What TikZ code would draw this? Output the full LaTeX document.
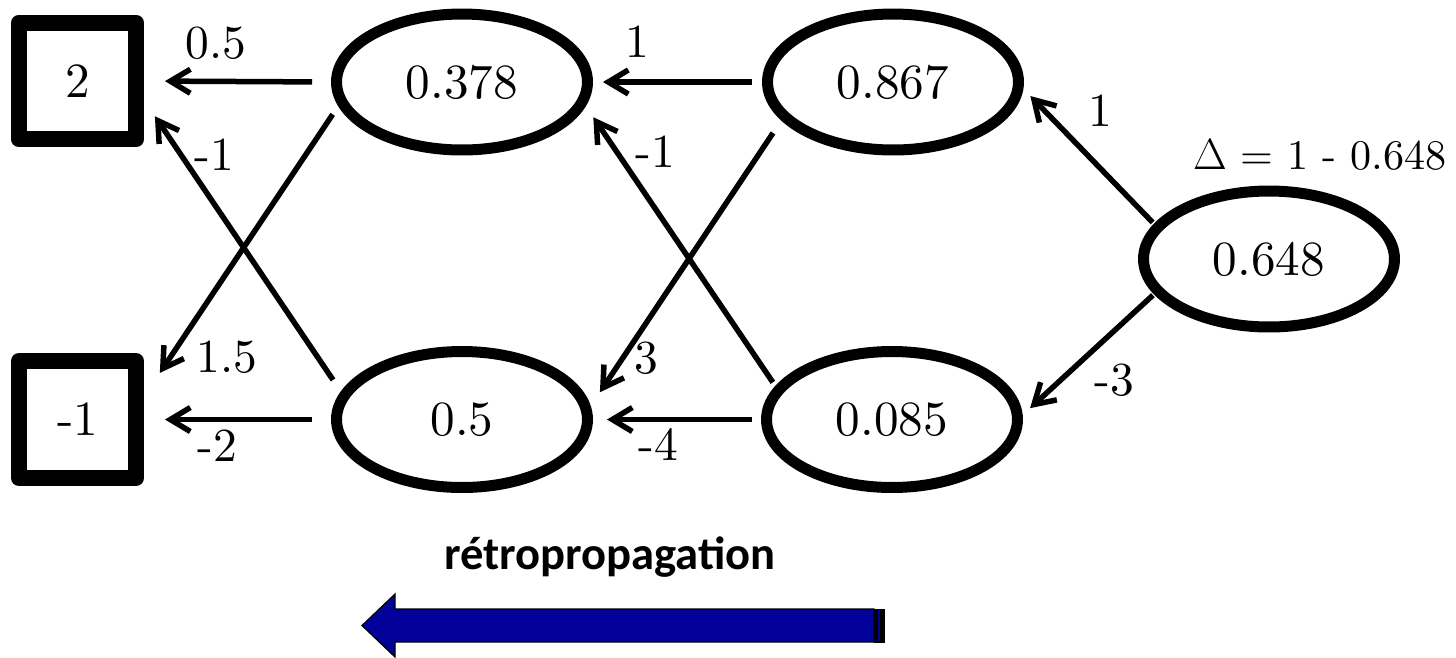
\documentclass[tikz,border=0pt]{standalone}
\usepackage{fontspec}
\newfontfamily\numfont{lmroman10-regular}[Extension=.otf]
\newfontfamily\backfont{Carlito}
\usetikzlibrary{arrows.meta,shapes.geometric}
\definecolor{backblue}{RGB}{2,2,155}

\tikzset{
  neuron/.style={draw, ellipse, line width=0.22cm, fill=white, minimum width=5.02cm,
    minimum height=2.72cm, inner sep=0pt, font=\numfont\fontsize{28}{34}\selectfont},
  inbox/.style={draw, rectangle, line width=0.32cm, line join=round, fill=white,
    minimum size=2.34cm, inner sep=0pt, font=\numfont\fontsize{28}{34}\selectfont},
  conn/.style={line width=0.11cm, -{Straight Barb[length=4mm,width=4.8mm]}},
  weight/.style={inner sep=0pt, font=\numfont\fontsize{27}{32}\selectfont}
}

\begin{document}
\begin{tikzpicture}[x=0.02cm, y=-0.02cm]
  \useasboundingbox (0,0) rectangle (1456,657);
  % inputs
  \node[inbox] (x1) at (77.5,81) {2};
  \node[inbox] (x2) at (77.5,419.5) {-1};
  % hidden layers
  \node[neuron] (h11) at (462,82) {0.378};
  \node[neuron] (h12) at (462,419.5) {0.5};
  \node[neuron] (h21) at (893,82) {0.867};
  \node[neuron] (h22) at (892,419.5) {0.085};
  % output
  \node[neuron] (y) at (1269,259) {0.648};
  \node[inner sep=0pt, font=\numfont\fontsize{24}{30}\selectfont] (delta) at (1320,155) {$\Delta$ = 1 - 0.648};

  % connectors, right to left
  \draw[conn, shorten <=0.38cm, shorten >=0.42cm] (h11.west) -- (x1.east);
  \draw[conn, shorten <=0.38cm, shorten >=0.42cm] (h12.west) -- (x2.east);
  \draw[conn, shorten <=0.2cm, shorten >=0.57cm] (h11.191) -- (x2.19);
  \draw[conn, shorten <=0.28cm, shorten >=0.39cm] (h12.167) -- (x1.344);
  \draw[conn, shorten <=0.2cm, shorten >=0.2cm] (h21.west) -- (h11.east);
  \draw[conn, shorten <=0.18cm, shorten >=0.28cm] (h22.west) -- (h12.east);
  \draw[conn, shorten <=0.3cm, shorten >=0.33cm] (h21.199) -- (h12.6);
  \draw[conn, shorten <=0.09cm, shorten >=0.27cm] (h22.164) -- (h11.349);
  \draw[conn, shorten <=0.04cm, shorten >=0.2cm] (y.163) -- (h21.357);
  \draw[conn, shorten <=0.03cm, shorten >=0.2cm] (y.197) -- (h22.2);

  % weights
  \node[weight] (w1) at (216,43) {0.5};
  \node[weight] (w2) at (214,155) {-1};
  \node[weight] (w3) at (227,357) {1.5};
  \node[weight] (w4) at (217,446) {-2};
  \node[weight] (w5) at (637,42) {1};
  \node[weight] (w6) at (655,152) {-1};
  \node[weight] (w7) at (646,358) {3};
  \node[weight] (w8) at (658,444) {-4};
  \node[weight] (w9) at (1100,111) {1};
  \node[weight] (w10) at (1114,380) {-3};

  % backward pass arrow
  \node[inner sep=0pt, font=\backfont\bfseries\fontsize{26.5}{30}\selectfont] (back) at (610,557) {rétropropagation};
  \draw[fill=backblue, line width=0.7pt, line join=miter]
    (362,625.5) -- (395,594) -- (395,609) -- (874,609) -- (874,642) -- (395,642) -- (395,657) -- cycle;
  \fill[black] (874,608.5) rectangle (885,642.5);
  \fill[backblue] (877.5,610) rectangle (879.5,641);
\end{tikzpicture}
\end{document}
